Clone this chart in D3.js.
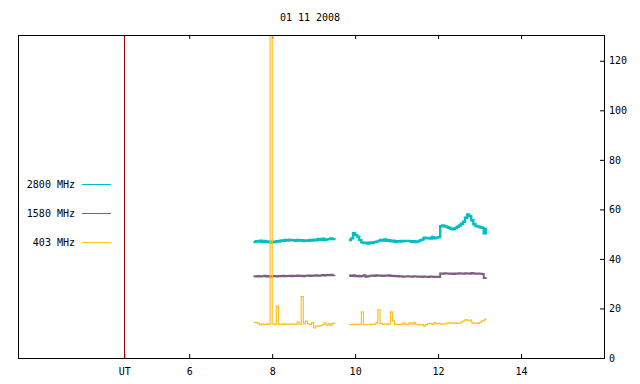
<!DOCTYPE html>
<html>
<head>
<meta charset="utf-8">
<script src="https://cdn.jsdelivr.net/npm/d3@7"></script>
<style>
  body { margin: 0; background: #fff; }
  text { font-family: "DejaVu Sans Mono", monospace; font-size: 10px; fill: #000; }
</style>
</head>
<body>
<div id="chart"></div>
<script>
const w = 640;
const h = 384;

const title = "01 11 2008";
const utHour = 4.435;
const xTicks = [6, 8, 10, 12, 14];
const yTicks = [0, 20, 40, 60, 80, 100, 120];

// sample times (hours UT), two observing blocks
const seg1Start = 7.55, seg2Start = 9.85, step = 0.05;

const f2800a = [46.8, 47.2, 47.0, 47.4, 46.9, 47.3, 46.8, 47.1, 46.6, 47.0,
  46.8, 47.2, 47.0, 47.5, 47.3, 47.7, 47.4, 47.8, 47.5, 47.6,
  47.3, 47.7, 47.4, 47.6, 47.2, 47.5, 47.3, 47.7, 47.4, 47.8,
  47.5, 48.1, 47.7, 48.2, 47.6, 47.9, 48.0, 48.3, 48.0, 48.4];
const f2800b = [47.6, 48.3, 50.4, 49.6, 49.0, 47.6, 46.7, 46.4, 46.6, 46.2,
  46.7, 46.4, 46.8, 47.0, 47.3, 47.7, 47.4, 47.9, 47.3, 47.6,
  47.1, 47.4, 46.9, 47.2, 47.0, 47.3, 47.1, 47.3, 47.3, 47.2,
  46.9, 47.2, 46.8, 47.1, 47.5, 47.8, 48.6, 48.3, 48.5, 48.2,
  48.9, 48.3, 48.6, 48.8, 53.2, 53.5, 53.2, 52.9, 52.6, 52.2,
  52.0, 52.4, 53.0, 53.5, 54.2, 55.0, 56.6, 58.0, 57.2, 55.6,
  54.0, 53.3, 53.1, 52.8, 52.6, 50.3, 52.6];

const f1580a = [33.0, 32.9, 33.1, 32.9, 33.0, 33.2, 32.9, 33.1, 32.8, 33.0,
  33.1, 32.9, 33.1, 33.0, 33.2, 33.0, 33.1, 33.2, 33.0, 33.2,
  33.1, 33.3, 33.1, 33.2, 33.0, 33.2, 33.3, 33.1, 33.3, 33.2,
  33.4, 33.2, 33.3, 33.5, 33.3, 33.5, 33.4, 33.6, 33.4, 33.5];
const f1580b = [33.3, 33.1, 33.4, 33.0, 33.2, 32.9, 33.1, 33.4, 32.8, 33.0,
  33.2, 33.3, 33.1, 33.4, 33.2, 33.3, 33.1, 33.3, 33.2, 33.4,
  33.1, 33.2, 33.0, 33.1, 32.9, 33.0, 32.8, 32.9, 33.0, 32.9,
  32.8, 33.0, 32.9, 32.8, 32.9, 32.7, 32.9, 32.8, 32.7, 32.9,
  32.8, 32.7, 32.8, 32.7, 34.1, 34.0, 34.2, 34.1, 34.0, 34.1,
  33.9, 34.1, 34.0, 34.2, 34.1, 34.0, 34.2, 34.1, 34.0, 34.3,
  34.1, 34.0, 34.1, 34.0, 33.9, 32.3, 32.5];

const f403a = [14.4, 14.3, 13.9, 13.4, 13.7, 13.5, 13.8, 13.6, 140, 13.8,
  13.6, 21.1, 13.7, 13.6, 13.8, 13.6, 13.7, 13.6, 13.8, 13.7,
  13.6, 14.5, 13.7, 24.8, 13.8, 14.9, 13.9, 13.5, 14.3, 12.2,
  13.0, 12.9, 13.1, 13.4, 14.2, 13.2, 13.9, 13.3, 14.0, 13.7];
const f403b = [13.5, 13.6, 13.7, 13.5, 13.6, 13.7, 18.6, 13.6, 13.5, 13.6,
  13.5, 13.7, 13.6, 14.2, 19.4, 14.0, 13.6, 13.8, 13.6, 13.7,
  18.6, 15.0, 13.5, 13.6, 13.5, 13.6, 14.2, 13.6, 13.5, 14.2,
  13.7, 14.3, 13.6, 13.5, 13.4, 13.5, 12.9, 13.5, 13.9, 14.0,
  13.6, 14.3, 13.8, 14.0, 13.7, 13.8, 13.7, 14.1, 14.2, 14.1,
  14.0, 14.2, 14.0, 14.1, 14.5, 15.0, 15.5, 15.2, 15.3, 14.4,
  14.0, 14.1, 14.0, 14.4, 15.0, 15.4, 16.2];

const series = [
  { name: "2800 MHz", color: "#00bfbf", width: 2.4, parts: [f2800a, f2800b] },
  { name: "1580 MHz", color: "#7f5f7f", width: 2, parts: [f1580a, f1580b] },
  { name: "403 MHz", color: "#ffbf1f", width: 1.2, parts: [f403a, f403b] },
];

const svg = d3.select("#chart").append("svg")
  .attr("width", w)
  .attr("height", h);

const x = d3.scaleLinear().domain([1.872, 16]).range([18, 604]);
const y = d3.scaleLinear().domain([0, 130]).range([358, 36]);

svg.append("text")
  .attr("x", 310)
  .attr("y", 21)
  .attr("text-anchor", "middle")
  .text(title);

svg.append("clipPath").attr("id", "clip")
  .append("rect")
  .attr("x", 18).attr("y", 35).attr("width", 586).attr("height", 323);

// axes
const gBottom = svg.append("g")
  .attr("transform", "translate(0,358)")
  .call(d3.axisBottom(x)
    .tickValues([utHour].concat(xTicks))
    .tickFormat((d) => (d === utHour ? "UT" : d))
    .tickSizeInner(-4).tickSizeOuter(0).tickPadding(10));

const gTop = svg.append("g")
  .attr("transform", "translate(0,35)")
  .call(d3.axisTop(x).tickValues(xTicks).tickFormat("")
    .tickSizeInner(-4).tickSizeOuter(0));

const gRight = svg.append("g")
  .attr("transform", "translate(604,0)")
  .call(d3.axisRight(y).tickValues(yTicks)
    .tickSizeInner(-4).tickSizeOuter(0).tickPadding(5));

[gBottom, gTop, gRight].forEach((g) => {
  g.attr("font-family", null).attr("font-size", null);
  g.select(".domain").remove();
  g.selectAll("line").attr("stroke", "#000");
});

// plot data
const line = d3.line()
  .curve(d3.curveStepAfter)
  .x((d) => x(d[0]))
  .y((d) => y(d[1]));

const plot = svg.append("g").attr("clip-path", "url(#clip)");

series.forEach((s) => {
  s.parts.forEach((vals, k) => {
    const t0 = k === 0 ? seg1Start : seg2Start;
    const pts = vals.map((v, i) => [t0 + i * step, v]);
    plot.append("path")
      .datum(pts)
      .attr("fill", "none")
      .attr("stroke", s.color)
      .attr("stroke-width", s.width)
      .attr("d", line);
  });
});

// UT marker
svg.append("line")
  .attr("x1", Math.round(x(utHour)) + 0.5)
  .attr("x2", Math.round(x(utHour)) + 0.5)
  .attr("y1", 35)
  .attr("y2", 358)
  .attr("stroke", "#a00000");

// frame
svg.append("rect")
  .attr("x", 18.5).attr("y", 35.5)
  .attr("width", 586).attr("height", 323)
  .attr("fill", "none")
  .attr("stroke", "#000");

// legend
const legend = svg.append("g");
series.forEach((s, i) => {
  const ly = 184 + i * 29;
  legend.append("text")
    .attr("x", 75)
    .attr("y", ly)
    .attr("dy", "0.35em")
    .attr("text-anchor", "end")
    .text(s.name);
  legend.append("line")
    .attr("x1", 82).attr("x2", 111)
    .attr("y1", ly + 0.5).attr("y2", ly + 0.5)
    .attr("stroke", s.color);
});
</script>
</body>
</html>
